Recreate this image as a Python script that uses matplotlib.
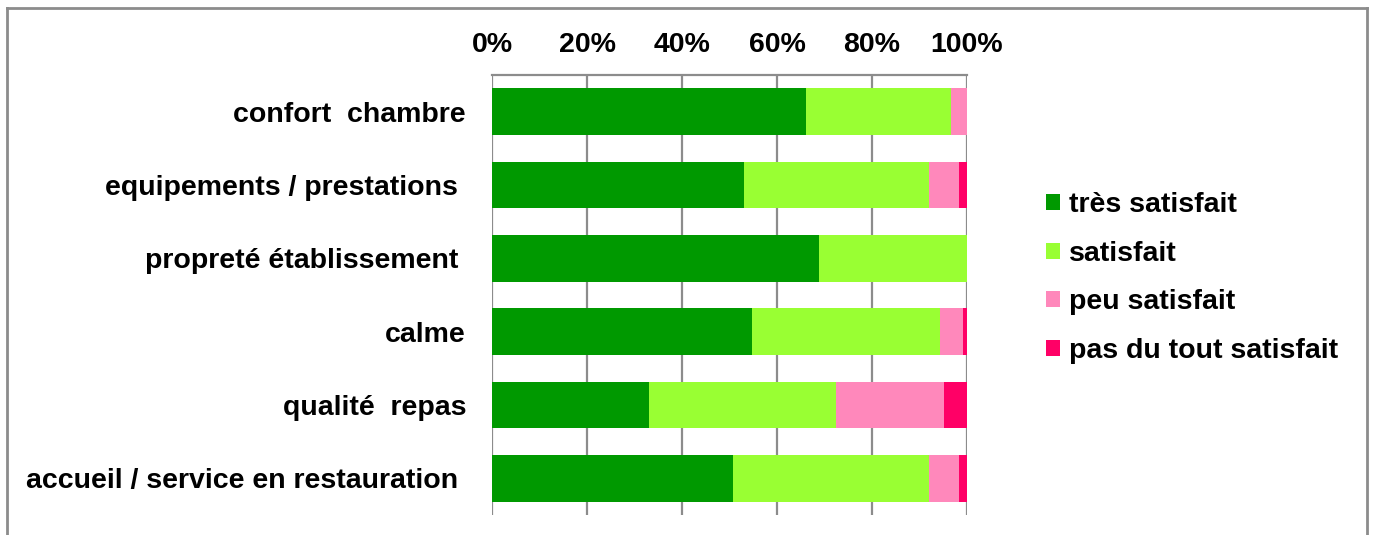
import matplotlib
matplotlib.use("Agg")
import matplotlib.pyplot as plt
from matplotlib.patches import Patch
from matplotlib.lines import Line2D
import numpy as np

categories = ["confort  chambre", "equipements / prestations ", "propreté établissement ",
              "calme", "qualité  repas", "accueil / service en restauration "]
tres_satisfait = [66.1, 53.1, 68.8, 54.7, 33.1, 50.7]
satisfait = [30.5, 38.9, 31.2, 39.6, 39.4, 41.3]
peu_satisfait = [3.4, 6.3, 0.0, 4.9, 22.7, 6.3]
pas_du_tout = [0.0, 1.7, 0.0, 0.8, 4.8, 1.7]
series_names = ["très satisfait", "satisfait", "peu satisfait", "pas du tout satisfait"]
colors = ["#009900", "#99FF33", "#FF88BB", "#FF0066"]
tick_vals = [0, 20, 40, 60, 80, 100]
tick_labels = ["0%", "20%", "40%", "60%", "80%", "100%"]

plt.rcParams['font.family'] = ['Liberation Sans', 'DejaVu Sans']
W, H = 1373, 535
FS = 20.5
fig = plt.figure(figsize=(W/100, H/100), dpi=100)
ax = fig.add_axes([492/W, 1-515/H, (967-492)/W, (515-75)/H])

y = np.arange(len(categories))
left = np.zeros(len(categories))
for vals, c, name in zip([tres_satisfait, satisfait, peu_satisfait, pas_du_tout], colors, series_names):
    ax.barh(y, vals, left=left, height=0.64, color=c, label=name, zorder=3)
    left += np.array(vals)

ax.set_xlim(0, 100)
ax.set_ylim(len(categories)-0.5, -0.5)
ax.set_yticks(y)
ax.set_yticklabels(categories, fontsize=FS, fontweight='bold')
ax.xaxis.tick_top()
ax.set_xticks(tick_vals)
ax.set_xticklabels(tick_labels, fontsize=FS, fontweight='bold')
ax.tick_params(axis='x', length=0, pad=12)
ax.tick_params(axis='y', length=0, pad=18.7)
ax.grid(axis='x', color='#8c8c8c', linewidth=1.6, zorder=0)
for s in ['right', 'bottom', 'left']:
    ax.spines[s].set_visible(False)
ax.spines['top'].set_color('#8c8c8c')
ax.spines['top'].set_linewidth(1.6)

handles = [Patch(facecolor=c, edgecolor='none') for c in colors]
fig.legend(handles, series_names, loc='center left', bbox_to_anchor=(1046/W, 1-278/H),
           frameon=False, prop={'size': FS, 'weight': 'bold'},
           handlelength=0.5, handleheight=0.5, handletextpad=0.3, labelspacing=0.79,
           borderpad=0, borderaxespad=0)

# outer border
bc = '#8c8c8c'
fig.add_artist(Line2D([6.5/W, 6.5/W], [0, 1-8/H], color=bc, lw=2, transform=fig.transFigure))
fig.add_artist(Line2D([1367/W, 1367/W], [0, 1-8/H], color=bc, lw=2, transform=fig.transFigure))
fig.add_artist(Line2D([6.5/W, 1367/W], [1-8/H, 1-8/H], color=bc, lw=2, transform=fig.transFigure))

fig.savefig("out.png", dpi=100)
